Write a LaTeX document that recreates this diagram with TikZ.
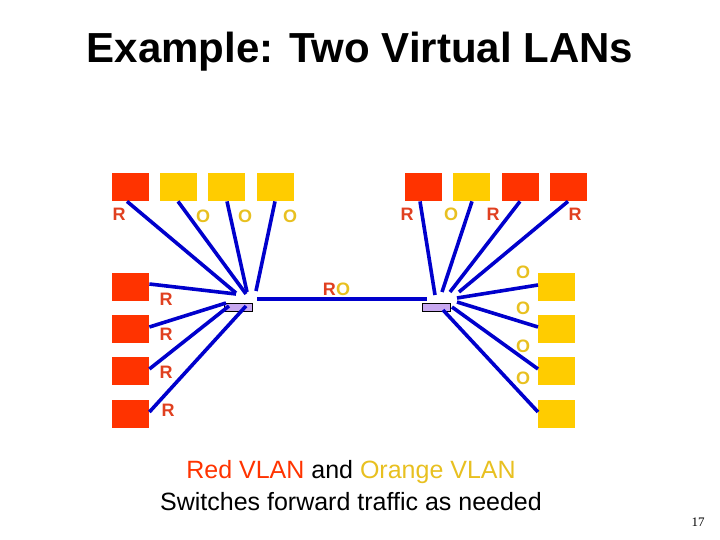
\documentclass[tikz,border=0pt]{standalone}
\usepackage{fontspec}
\setmainfont{Liberation Sans}
\newfontfamily\serifnum{Liberation Serif}
\definecolor{rd}{HTML}{FF3300}
\definecolor{og}{HTML}{FFCC00}
\definecolor{rl}{HTML}{E04020}
\definecolor{ol}{HTML}{E8C020}
\definecolor{bl}{HTML}{0000CC}
\definecolor{sw}{HTML}{C8A8F0}
\begin{document}
\begin{tikzpicture}[x=1pt,y=-1pt,
 hst/.style={minimum width=37pt,minimum height=28pt,inner sep=0pt,anchor=north west},
 rh/.style={hst,fill=rd},oh/.style={hst,fill=og},
 swt/.style={draw=black,fill=sw,minimum width=28pt,minimum height=8pt,inner sep=0pt,anchor=north west,line width=0.6pt},
 wire/.style={draw=bl,line width=3.6pt},
 rlab/.style={text=rl,font=\bfseries\fontsize{18}{18}\selectfont,inner sep=0pt},
 olab/.style={text=ol,font=\bfseries\fontsize{18}{18}\selectfont,inner sep=0pt}]
\useasboundingbox (0,0) rectangle (720,540);
\node[font=\bfseries\fontsize{42}{42}\selectfont] (title) at (360,52) {Example: Two Virtual LANs};
% left hosts
\node[rh] (a1) at (112,173) {}; \node[oh] (a2) at (160,173) {};
\node[oh] (a3) at (208,173) {}; \node[oh] (a4) at (257,173) {};
\node[rh] (b1) at (112,273) {}; \node[rh] (b2) at (112,315) {};
\node[rh] (b3) at (112,357) {}; \node[rh] (b4) at (112,400) {};
% right hosts
\node[rh] (c1) at (405,173) {}; \node[oh] (c2) at (453,173) {};
\node[rh] (c3) at (502,173) {}; \node[rh] (c4) at (550,173) {};
\node[oh] (d1) at (538,273) {}; \node[oh] (d2) at (538,315) {};
\node[oh] (d3) at (538,357) {}; \node[oh] (d4) at (538,400) {};
% switches
\node[swt] (s1) at (224,303) {};
\node[swt] (s2) at (422,303) {};
\coordinate (p1) at (236,293); \coordinate (p2) at (246,294);
\coordinate (p3) at (247,292); \coordinate (p4) at (256,291);
\coordinate (q1) at (236,294); \coordinate (q2) at (226,303);
\coordinate (q3) at (229,306); \coordinate (q4) at (246,306);
\draw[wire] ([xshift=15pt]a1.south west) -- (p1);
\draw[wire] ([xshift=18pt]a2.south west) -- (p2);
\draw[wire] ([xshift=19pt]a3.south west) -- (p3);
\draw[wire] ([xshift=18pt]a4.south west) -- (p4);
\draw[wire] ([yshift=-11pt]b1.north east) -- (q1);
\draw[wire] ([yshift=-12pt]b2.north east) -- (q2);
\draw[wire] ([yshift=-12pt]b3.north east) -- (q3);
\draw[wire] ([yshift=-12pt]b4.north east) -- (q4);
\coordinate (t1) at (257,299); \coordinate (t2) at (427,299);
\draw[wire] (t1) -- (t2);
\coordinate (r1) at (435,295); \coordinate (r2) at (442,292);
\coordinate (r3) at (450,292); \coordinate (r4) at (459,292);
\coordinate (u1) at (457,298); \coordinate (u2) at (457,302);
\coordinate (u3) at (452,307); \coordinate (u4) at (443,310);
\draw[wire] ([xshift=15pt]c1.south west) -- (r1);
\draw[wire] ([xshift=19pt]c2.south west) -- (r2);
\draw[wire] ([xshift=18pt]c3.south west) -- (r3);
\draw[wire] ([xshift=18pt]c4.south west) -- (r4);
\draw[wire] ([yshift=-12pt]d1.north west) -- (u1);
\draw[wire] ([yshift=-12pt]d2.north west) -- (u2);
\draw[wire] ([yshift=-12pt]d3.north west) -- (u3);
\draw[wire] ([yshift=-12pt]d4.north west) -- (u4);
% labels
\node[rlab] (la1) at (119,214) {R};
\node[olab] (la2) at (203,216) {O};
\node[olab] (la3) at (245,216) {O};
\node[olab] (la4) at (290,216) {O};
\node[rlab] (lb1) at (166,299) {R};
\node[rlab] (lb2) at (166,334) {R};
\node[rlab] (lb3) at (166,372) {R};
\node[rlab] (lb4) at (168,410) {R};
\node[rlab,anchor=east] (lr) at (336,289) {R};
\node[olab,anchor=west] (lo) at (336,289) {O};
\node[rlab] (lc1) at (407,214) {R};
\node[olab] (lc2) at (451,214) {O};
\node[rlab] (lc3) at (493,214) {R};
\node[rlab] (lc4) at (575,214) {R};
\node[olab] (ld1) at (523,272) {O};
\node[olab] (ld2) at (523,308) {O};
\node[olab] (ld3) at (523,346) {O};
\node[olab] (ld4) at (523,378) {O};
\node[font=\fontsize{25}{25}\selectfont] (cap1) at (351,472) {\textcolor{rd}{Red VLAN} and \textcolor{ol}{Orange VLAN}};
\node[font=\fontsize{25}{25}\selectfont] (cap2) at (351,502) {Switches forward traffic as needed};
\node[font=\fontsize{13}{13}\selectfont\serifnum] (pg) at (698,522) {17};
\end{tikzpicture}
\end{document}
